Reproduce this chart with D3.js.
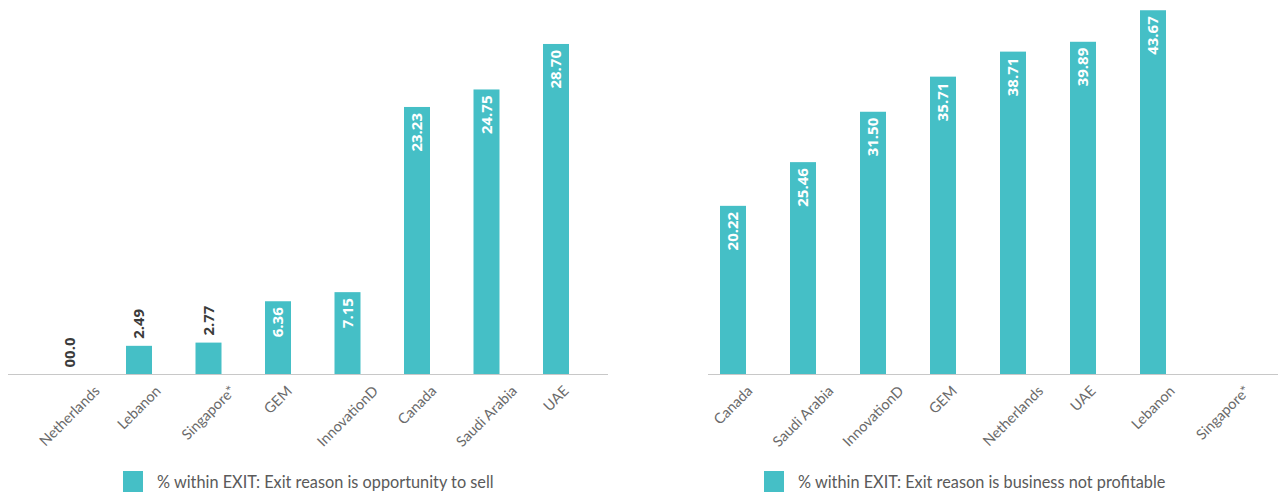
<!DOCTYPE html>
<html>
<head>
<meta charset="utf-8">
<script src="https://cdn.jsdelivr.net/npm/d3@7/dist/d3.min.js"></script>
<style>
  html, body { margin: 0; padding: 0; background: #ffffff; }
  svg { display: block; }
</style>
</head>
<body>
<svg id="chart" width="1278" height="493"></svg>
<script>
// ---------- data ----------
const leftCategories = ["Netherlands", "Lebanon", "Singapore*", "GEM", "InnovationD", "Canada", "Saudi Arabia", "UAE"];
const leftValues = [0, 2.49, 2.77, 6.36, 7.15, 23.23, 24.75, 28.70];
const leftLabels = ["00.0", "2.49", "2.77", "6.36", "7.15", "23.23", "24.75", "28.70"];
const leftLegend = "% within EXIT: Exit reason is opportunity to sell";

const rightCategories = ["Canada", "Saudi Arabia", "InnovationD", "GEM", "Netherlands", "UAE", "Lebanon", "Singapore*"];
const rightValues = [20.22, 25.46, 31.50, 35.71, 38.71, 39.89, 43.67, null];
const rightLabels = ["20.22", "25.46", "31.50", "35.71", "38.71", "39.89", "43.67", ""];
const rightLegend = "% within EXIT: Exit reason is business not profitable";

// ---------- style ----------
const BAR = "#45bfc6";
const svg = d3.select("#chart");
const baseY = 374.5;
const CAT_FS = 14.5;

function drawPanel(cfg) {
  const g = svg.append("g");
  const step = (cfg.range[1] - cfg.range[0]) / cfg.cats.length;
  const pad = 1 - 26 / step;
  const x = d3.scaleBand().domain(cfg.cats).range(cfg.range)
    .paddingInner(pad).paddingOuter(pad / 2);
  const y = d3.scaleLinear().domain([0, cfg.yMax]).range([baseY, 10]);

  const data = cfg.cats.map((c, i) => ({ c, v: cfg.vals[i], lab: cfg.labels[i] }));

  // bars
  g.selectAll("rect.bar").data(data.filter(d => d.v != null && d.v > 0)).join("rect")
    .attr("class", "bar")
    .attr("x", d => x(d.c))
    .attr("width", x.bandwidth())
    .attr("y", d => y(d.v))
    .attr("height", d => y(0) - y(d.v))
    .attr("fill", BAR);

  // baseline
  g.append("line")
    .attr("x1", cfg.axis[0]).attr("x2", cfg.axis[1])
    .attr("y1", baseY).attr("y2", baseY)
    .attr("stroke", "#c8c8c8").attr("stroke-width", 1);

  // value labels (rotated)
  g.selectAll("text.val").data(data.filter(d => d.v != null)).join("text")
    .attr("class", "val")
    .attr("transform", d => {
      const cx = x(d.c) + x.bandwidth() / 2;
      const inside = d.v >= cfg.insideMin;
      const yy = inside ? y(d.v) + 6 : y(d.v) - 7;
      return `translate(${cx},${yy}) rotate(-90)`;
    })
    .attr("text-anchor", d => d.v >= cfg.insideMin ? "end" : "start")
    .attr("dy", "0.36em")
    .attr("font-family", "'Open Sans', 'DejaVu Sans', sans-serif")
    .attr("font-weight", 700)
    .attr("font-size", 15)
    .attr("fill", d => d.v >= cfg.insideMin ? "#ffffff" : "#3b3b3b")
    .text(d => d.lab);

  // category axis labels via d3 axis
  const axisG = g.append("g").attr("transform", `translate(0,${baseY})`)
    .call(d3.axisBottom(x).tickSize(0).tickPadding(0));
  axisG.select(".domain").remove();
  axisG.selectAll(".tick text")
    .attr("font-family", "Lato, 'Open Sans', sans-serif")
    .attr("font-size", CAT_FS)
    .attr("fill", "#6a6a6a")
    .attr("text-anchor", "middle")
    .attr("y", 0).attr("dy", "0.35em");
  axisG.selectAll(".tick text").each(function () {
    const L = this.getComputedTextLength();
    const h = CAT_FS * 0.75;
    const half = (L + h) * Math.SQRT1_2 / 2;
    d3.select(this).attr("transform", `translate(0,${10 + half}) rotate(-45)`);
  });

  // legend
  const lg = g.append("g");
  lg.append("rect").attr("x", cfg.legendX).attr("y", 471).attr("width", 20).attr("height", 21).attr("fill", BAR);
  lg.append("text").attr("x", cfg.legendX + 34).attr("y", 488)
    .attr("font-family", "Lato, 'Open Sans', sans-serif")
    .attr("font-size", 16.3)
    .attr("fill", "#5a5a5a")
    .text(cfg.legend);
}

drawPanel({
  cats: leftCategories, vals: leftValues, labels: leftLabels, legend: leftLegend,
  range: [34.75, 590.75], axis: [8, 608], yMax: 31.65, insideMin: 5, legendX: 123
});
drawPanel({
  cats: rightCategories, vals: rightValues, labels: rightLabels, legend: rightLegend,
  range: [698, 1258], axis: [708, 1278], yMax: 43.7, insideMin: 5, legendX: 764
});
</script>
</body>
</html>
